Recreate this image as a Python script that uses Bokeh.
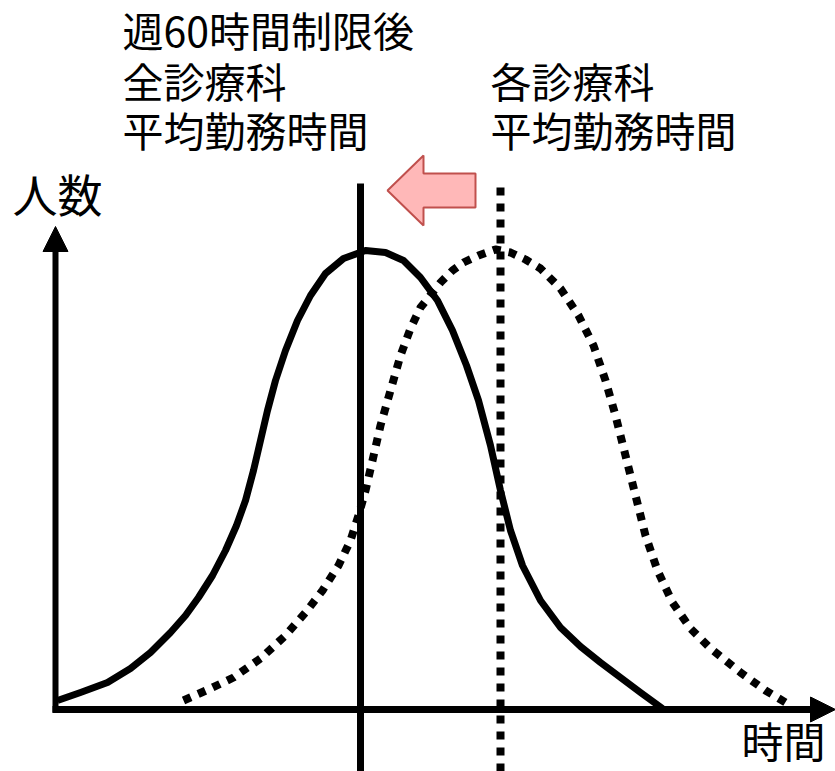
from bokeh.plotting import figure
from bokeh.models import Range1d, Arrow, NormalHead
from bokeh.core.properties import value
from bokeh.embed import file_html
from bokeh.resources import INLINE

# Conceptual data (time on x, number of people on y), origin at the axes' crossing
solid_x = [2, 25, 52, 75, 95, 115, 130, 143, 157, 170, 181, 190, 198, 205, 212, 220, 230,
           242, 255, 270, 288, 310, 330, 348, 365, 382, 397, 411, 423, 435, 445, 455, 467,
           485, 505, 525, 545, 565, 585, 607]
solid_y = [9, 17, 27, 41, 57, 77, 94, 112, 134, 159, 184, 209, 239, 269, 299, 329, 359,
           389, 414, 436, 451, 459, 457, 449, 432, 409, 379, 344, 309, 264, 219, 179, 144,
           109, 82, 63, 47, 32, 17, 1]

dotted_x = [128, 155, 178, 205, 230, 250, 267, 283, 295, 303, 310, 317, 325, 335, 345, 355,
            365, 385, 397, 408, 423, 440, 455, 470, 485, 505, 523, 538, 550, 560, 570, 580,
            590, 602, 617, 635, 655, 685, 710, 735]
dotted_y = [9, 21, 32, 51, 74, 97, 119, 144, 169, 194, 219, 249, 284, 319, 354, 381,
            402, 427, 439, 447, 454, 460, 457, 450, 441, 421, 394, 364, 329, 294, 254, 214,
            174, 139, 107, 81, 61, 37, 19, 4]

mean_after = 305    # 週60時間制限後 全診療科 平均勤務時間
mean_each = 445     # 各診療科 平均勤務時間

labels_left = ["週60時間制限後", "全診療科", "平均勤務時間"]
labels_right = ["各診療科", "平均勤務時間"]
y_label = "人数"
x_label = "時間"

W, H = 835, 771
ox, oy = 55, 709  # pixel position of the origin

p = figure(width=W, height=H, output_backend="svg", toolbar_location=None,
           x_range=Range1d(-ox, W - ox), y_range=Range1d(oy - H, oy),
           x_axis_location=None, y_axis_location=None, min_border=0)
p.outline_line_color = None
p.xgrid.visible = False
p.ygrid.visible = False
p.background_fill_color = "white"

FONT = value("Noto Sans CJK JP")

# axes with arrows
p.add_layout(Arrow(x_start=-3, y_start=0, x_end=W - ox, y_end=0, line_width=7,
                   line_color="black",
                   end=NormalHead(size=25, fill_color="black", line_color="black", line_width=1)))
p.add_layout(Arrow(x_start=0, y_start=-3, x_end=0, y_end=oy - 226, line_width=6,
                   line_color="black",
                   end=NormalHead(size=25, fill_color="black", line_color="black", line_width=1)))

# vertical mean lines
p.line([mean_after, mean_after], [oy - H, oy - 183], line_width=7, line_color="black")
p.line([mean_each, mean_each], [oy - H, oy - 180], line_width=8, line_color="black",
       line_dash="8 8")

# distributions
p.line(solid_x, solid_y, line_width=7, line_color="black", line_join="round")
p.line(dotted_x, dotted_y, line_width=8, line_color="black", line_dash="8 8",
       line_join="round")

# pink block arrow pointing left (shift of the mean)
tip_x, cy = 387 - ox, oy - 190
ax = [tip_x, 423 - ox, 423 - ox, 475 - ox, 475 - ox, 423 - ox, 423 - ox]
ay = [cy, cy + 35, cy + 17, cy + 17, cy - 17, cy - 17, cy - 35]
p.patch(ax, ay, fill_color="#ffb8b8", line_color="#c0504d", line_width=2)

# texts
p.text(x=[122 - ox] * 3, y=[oy - 28, oy - 79, oy - 128], text=labels_left,
       text_font=FONT, text_font_size="41px", text_align="left", text_baseline="middle",
       text_color="black")
p.text(x=[490 - ox] * 2, y=[oy - 79, oy - 128], text=labels_right,
       text_font=FONT, text_font_size="41px", text_align="left", text_baseline="middle",
       text_color="black")
p.text(x=[12 - ox], y=[oy - 193], text=[y_label], text_font=FONT, text_font_size="45px",
       text_align="left", text_baseline="middle", text_color="black")
p.text(x=[825 - ox], y=[oy - 769], text=[x_label], text_font=FONT, text_font_size="42px",
       text_align="right", text_baseline="bottom", text_color="black")

open("out.html", "w").write(file_html(p, INLINE))
